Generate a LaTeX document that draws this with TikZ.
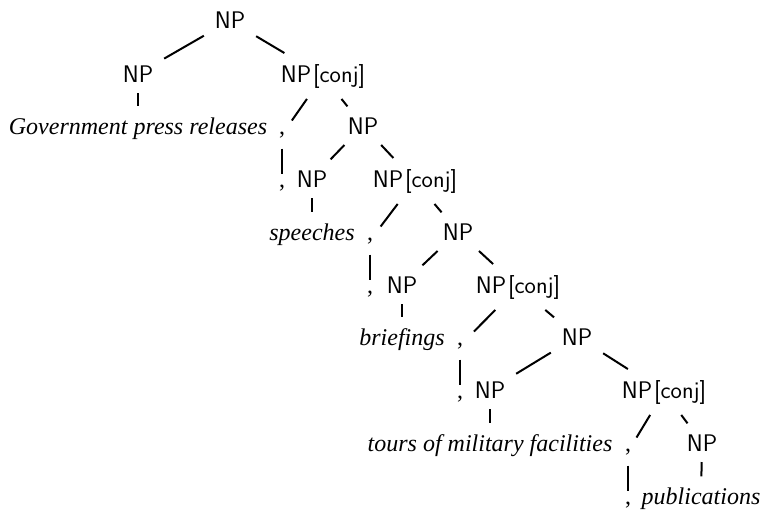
\documentclass[tikz,border=0pt]{standalone}
\usepackage{fontspec}
\newfontfamily\leaffont{Liberation Serif}
\begin{document}
\begin{tikzpicture}[x=0.75pt,y=-0.75pt,
  every node/.style={inner sep=0pt, outer sep=8.25pt, anchor=base},
  cat/.style={font=\fontsize{18}{20}\selectfont\sffamily},
  word/.style={font=\fontsize{18}{20}\selectfont\leaffont\itshape},
  punct/.style={font=\fontsize{18}{20}\selectfont\leaffont},
  edge/.style={line width=1.5pt}]
\useasboundingbox (0,0) rectangle (762,510);
% nodes
\node[cat] (n0) at (230,29) {NP};
\node[cat] (n1) at (138,82) {NP};
\node[cat] (c1) at (323,82) {NP\kern1.5pt[conj]};
\node[word] (w1) at (138,134) {Government press releases};
\node[punct] (p1) at (282,134) {,};
\node[cat] (n2) at (363,134) {NP};
\node[punct] (q1) at (282,187) {,};
\node[cat] (n3) at (312,187) {NP};
\node[cat] (c2) at (415,187) {NP\kern1.5pt[conj]};
\node[word] (w2) at (312,240) {speeches};
\node[punct] (p2) at (370,240) {,};
\node[cat] (n4) at (458,240) {NP};
\node[punct] (q2) at (370,293) {,};
\node[cat] (n5) at (402,293) {NP};
\node[cat] (c3) at (518,293) {NP\kern1.5pt[conj]};
\node[word] (w3) at (402,345) {briefings};
\node[punct] (p3) at (460,345) {,};
\node[cat] (n6) at (577,345) {NP};
\node[punct] (q3) at (460,398) {,};
\node[cat] (n7) at (490,398) {NP};
\node[cat] (c4) at (664,398) {NP\kern1.5pt[conj]};
\node[word] (w4) at (490,451) {tours of military facilities};
\node[punct] (p4) at (628,451) {,};
\node[cat] (n8) at (702,451) {NP};
\node[punct] (q4) at (628,504) {,};
\node[word] (w5) at (701,504) {publications};
% edges
\draw[edge] (n0) -- (n1);
\draw[edge] (n0) -- (c1);
\draw[edge] (n1) -- (w1);
\draw[edge] (c1) -- (p1);
\draw[edge] (c1) -- (n2);
\draw[edge] (p1) -- (q1);
\draw[edge] (n2) -- (n3);
\draw[edge] (n2) -- (c2);
\draw[edge] (n3) -- (w2);
\draw[edge] (c2) -- (p2);
\draw[edge] (c2) -- (n4);
\draw[edge] (p2) -- (q2);
\draw[edge] (n4) -- (n5);
\draw[edge] (n4) -- (c3);
\draw[edge] (n5) -- (w3);
\draw[edge] (c3) -- (p3);
\draw[edge] (c3) -- (n6);
\draw[edge] (p3) -- (q3);
\draw[edge] (n6) -- (n7);
\draw[edge] (n6) -- (c4);
\draw[edge] (n7) -- (w4);
\draw[edge] (c4) -- (p4);
\draw[edge] (c4) -- (n8);
\draw[edge] (p4) -- (q4);
\draw[edge] (n8) -- (w5);
\end{tikzpicture}
\end{document}
